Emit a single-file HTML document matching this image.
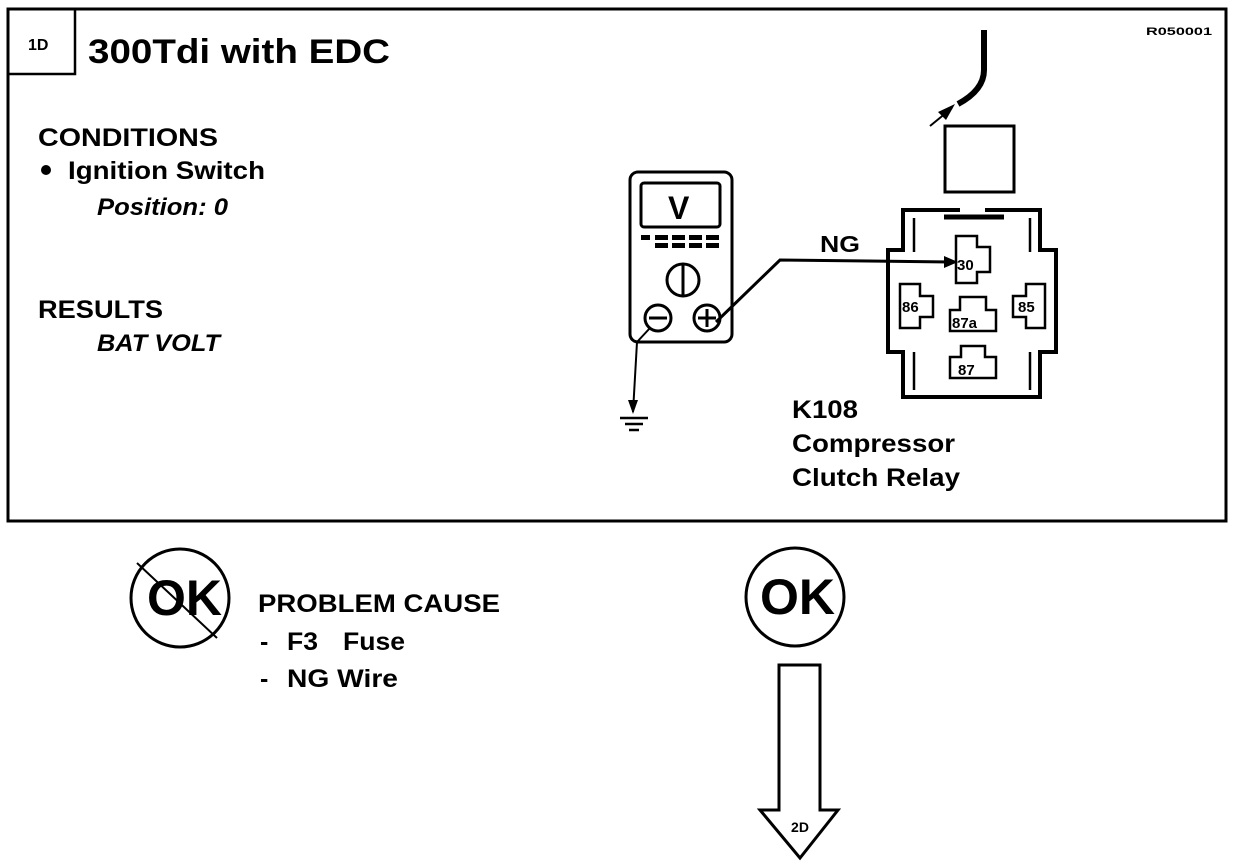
<!DOCTYPE html>
<html><head><meta charset="utf-8"><style>
body{margin:0;background:#fff;width:1248px;height:868px;overflow:hidden}
svg{display:block}
text{font-family:"Liberation Sans",sans-serif;font-weight:bold;fill:#000}
</style></head><body>
<svg width="1248" height="868" viewBox="0 0 1248 868">
<g fill="none" stroke="#000">
<rect x="8" y="9" width="1218" height="512" stroke-width="3"/>
<rect x="8" y="9" width="67" height="65" stroke-width="2.5"/>
<rect x="630" y="172" width="102" height="170" rx="8" stroke-width="3"/>
<rect x="641" y="183" width="79" height="44" rx="3" stroke-width="3"/>
<circle cx="683" cy="280" r="16" stroke-width="3"/>
<line x1="683" y1="264" x2="683" y2="296" stroke-width="3"/>
<circle cx="658" cy="318" r="13" stroke-width="3"/>
<line x1="649" y1="318" x2="667" y2="318" stroke-width="3"/>
<circle cx="707" cy="318" r="13" stroke-width="3"/>
<line x1="698" y1="318" x2="716" y2="318" stroke-width="3"/><line x1="707" y1="309" x2="707" y2="327" stroke-width="3"/>
<polyline points="716,322 780,260 950,262" stroke-width="3"/>
<polyline points="650,328 637,342 633,412" stroke-width="2"/>
<line x1="620" y1="418" x2="648" y2="418" stroke-width="2.5"/>
<line x1="625" y1="424" x2="643" y2="424" stroke-width="2.5"/>
<line x1="629" y1="430" x2="639" y2="430" stroke-width="2.5"/>
<rect x="945" y="126" width="69" height="66" stroke-width="3"/>
<path d="M984 30 L984 70 Q984 90 958 104" stroke-width="6"/>
<line x1="930" y1="126" x2="952" y2="108" stroke-width="2"/>
<path d="M960 210 H903 V250 H888 V352 H903 V397 H1040 V352 H1056 V250 H1040 V210 H985" stroke-width="4"/>
<line x1="944" y1="217" x2="1004" y2="217" stroke-width="5"/>
<line x1="914" y1="218" x2="914" y2="252" stroke-width="2.5"/>
<line x1="1030" y1="218" x2="1030" y2="252" stroke-width="2.5"/>
<line x1="914" y1="352" x2="914" y2="390" stroke-width="2.5"/>
<line x1="1030" y1="352" x2="1030" y2="390" stroke-width="2.5"/>
<path d="M956 236 H977 V247 H990 V272 H977 V283 H956 Z" stroke-width="2.5"/>
<path d="M900 284 H920 V296 H933 V317 H920 V328 H900 Z" stroke-width="2.5"/>
<path d="M1026 284 H1045 V328 H1026 V317 H1013 V296 H1026 Z" stroke-width="2.5"/>
<path d="M960 297 H986 V310 H996 V331 H950 V310 H960 Z" stroke-width="2.5"/>
<path d="M961 346 H985 V357 H996 V378 H950 V357 H961 Z" stroke-width="2.5"/>
<circle cx="180" cy="598" r="49" stroke-width="3"/>
<line x1="137" y1="563" x2="217" y2="638" stroke-width="2"/>
<circle cx="795" cy="597" r="49" stroke-width="3"/>
<path d="M779 665 H820 V810 H838 L800 858 L760 810 H779 Z" stroke-width="3"/>
</g>
<polygon points="958,262 944,256 944,268" fill="#000"/>
<polygon points="633,414 628,400 638,400" fill="#000"/>
<polygon points="955,104 938,112 946,120" fill="#000"/>
<g fill="#000">
<rect x="641" y="235" width="9" height="5"/><rect x="655" y="235" width="13" height="5"/><rect x="672" y="235" width="13" height="5"/><rect x="689" y="235" width="13" height="5"/><rect x="706" y="235" width="13" height="5"/>
<rect x="655" y="243" width="13" height="5"/><rect x="672" y="243" width="13" height="5"/><rect x="689" y="243" width="13" height="5"/><rect x="706" y="243" width="13" height="5"/>
</g>
<text x="28" y="50" font-size="16">1D</text>
<text x="88" y="63" font-size="34" textLength="302" lengthAdjust="spacingAndGlyphs">300Tdi with EDC</text>
<text x="1146" y="35" font-size="11" font-weight="normal" textLength="66" lengthAdjust="spacingAndGlyphs">R050001</text>
<text x="38" y="146" font-size="25" textLength="180" lengthAdjust="spacingAndGlyphs">CONDITIONS</text>
<circle cx="46" cy="170" r="5" fill="#000"/>
<text x="68" y="179" font-size="25" textLength="197" lengthAdjust="spacingAndGlyphs">Ignition Switch</text>
<text x="97" y="215" font-size="24" font-weight="normal" font-style="italic" textLength="131" lengthAdjust="spacingAndGlyphs">Position: 0</text>
<text x="38" y="318" font-size="25" textLength="125" lengthAdjust="spacingAndGlyphs">RESULTS</text>
<text x="97" y="351" font-size="24" font-weight="normal" font-style="italic" textLength="123" lengthAdjust="spacingAndGlyphs">BAT VOLT</text>
<text x="668" y="219" font-size="32">V</text>
<text x="820" y="252" font-size="23" textLength="40" lengthAdjust="spacingAndGlyphs">NG</text>
<text x="957" y="270" font-size="15" font-weight="normal">30</text>
<text x="902" y="312" font-size="15" font-weight="normal">86</text>
<text x="1018" y="312" font-size="15" font-weight="normal">85</text>
<text x="952" y="328" font-size="15" font-weight="normal">87a</text>
<text x="958" y="375" font-size="15" font-weight="normal">87</text>
<text x="792" y="418" font-size="25" textLength="66" lengthAdjust="spacingAndGlyphs">K108</text>
<text x="792" y="452" font-size="25" textLength="163" lengthAdjust="spacingAndGlyphs">Compressor</text>
<text x="792" y="486" font-size="25" textLength="168" lengthAdjust="spacingAndGlyphs">Clutch Relay</text>
<text x="147" y="615" font-size="50" textLength="75" lengthAdjust="spacingAndGlyphs">OK</text>
<text x="760" y="614" font-size="50" textLength="75" lengthAdjust="spacingAndGlyphs">OK</text>
<text x="258" y="612" font-size="25" textLength="242" lengthAdjust="spacingAndGlyphs">PROBLEM CAUSE</text>
<text x="260" y="650" font-size="25">-</text>
<text x="287" y="650" font-size="25" textLength="31" lengthAdjust="spacingAndGlyphs">F3</text>
<text x="343" y="650" font-size="25" textLength="62" lengthAdjust="spacingAndGlyphs">Fuse</text>
<text x="260" y="687" font-size="25">-</text>
<text x="287" y="687" font-size="25" textLength="111" lengthAdjust="spacingAndGlyphs">NG Wire</text>
<text x="800" y="832" font-size="14" text-anchor="middle">2D</text>
</svg>
</body></html>
